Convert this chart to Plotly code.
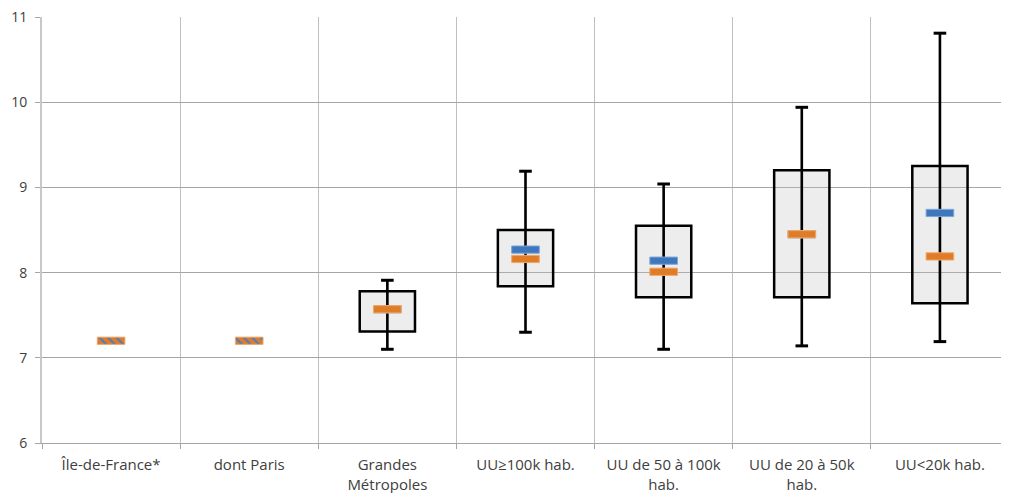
import plotly.graph_objects as go

categories = ["Île-de-France*", "dont Paris", "Grandes<br>Métropoles", "UU≥100k hab.",
              "UU de 50 à 100k<br>hab.", "UU de 20 à 50k<br>hab.", "UU<20k hab."]
q1 = [None, None, 7.31, 7.84, 7.71, 7.71, 7.64]
q3 = [None, None, 7.78, 8.50, 8.55, 9.20, 9.25]
vmin = [None, None, 7.10, 7.30, 7.10, 7.14, 7.19]
vmax = [None, None, 7.91, 9.19, 9.04, 9.94, 10.81]
blue_vals = [7.20, 7.20, 7.57, 8.27, 8.14, 8.45, 8.70]
orange_vals = [7.20, 7.20, 7.57, 8.16, 8.01, 8.45, 8.19]
y_ticks = [6, 7, 8, 9, 10, 11]

MH = 0.085  # marker thickness in data units
BLUE = "#3D77BE"
ORANGE = "#E07C28"

box_h = [None if a is None else b - a for a, b in zip(q1, q3)]
span = [None if a is None else b - a for a, b in zip(vmin, vmax)]
same = [b == o and q is None for b, o, q in zip(blue_vals, orange_vals, q1)]
blue_show = [None if s else v for v, s in zip(blue_vals, same)]

fig = go.Figure()
# boxes Q1..Q3 (slightly transparent fill, gridlines show through)
fig.add_trace(go.Bar(
    x=categories, y=box_h, base=q1, width=0.4,
    marker=dict(color="rgba(191,191,191,0.28)", line=dict(color="#000000", width=2.5)),
    showlegend=False, hoverinfo="skip"))
# whisker min..max as a thin bar above the box
fig.add_trace(go.Bar(
    x=categories, y=span, base=vmin, width=0.019,
    marker=dict(color="#000000", line=dict(width=0)),
    showlegend=False, hoverinfo="skip"))
# blue markers
fig.add_trace(go.Bar(
    x=categories, y=[None if v is None else MH for v in blue_show],
    base=[None if v is None else v - MH / 2 for v in blue_show], width=0.2,
    marker=dict(color=BLUE, line=dict(color="#7FA6D6", width=1)),
    showlegend=False, hoverinfo="skip"))
# orange markers (hatched with blue where both coincide)
fig.add_trace(go.Bar(
    x=categories, y=[MH for _ in orange_vals],
    base=[v - MH / 2 for v in orange_vals], width=0.2,
    marker=dict(color=ORANGE, line=dict(color="#F0A868", width=1),
                pattern=dict(shape=["\\" if s else "" for s in same], fgcolor="#4A7EC0",
                             bgcolor=ORANGE, size=6, solidity=0.35, fillmode="replace")),
    showlegend=False, hoverinfo="skip"))
# whisker caps
fig.add_trace(go.Scatter(
    x=categories + categories, y=vmin + vmax, mode="markers",
    marker=dict(symbol="line-ew", size=9, line=dict(color="#000000", width=3)),
    showlegend=False, hoverinfo="skip"))

fig.update_layout(
    width=1001, height=485,
    margin=dict(l=34, r=0, t=9, b=50),
    paper_bgcolor="white", plot_bgcolor="white",
    barmode="overlay",
    font=dict(family="Open Sans, Noto Sans, sans-serif", size=15, color="#404040"),
    xaxis=dict(type="category", categoryorder="array", categoryarray=categories,
               tickson="boundaries", showgrid=True, gridcolor="#BFBFBF",
               gridwidth=1, showline=True, linecolor="#A6A6A6", linewidth=1,
               ticks="outside", ticklen=5, tickcolor="#A6A6A6", tickfont=dict(size=15),
               ticklabelstandoff=8, range=[-0.5, 6.5], automargin=False),
    yaxis=dict(range=[6, 11], tickvals=y_ticks, showgrid=True, gridcolor="#A6A6A6",
               gridwidth=1, showline=True, linecolor="#C8C8C8", linewidth=2,
               ticks="outside", ticklen=5, tickcolor="#A6A6A6", zeroline=False,
               tickfont=dict(size=14), ticklabelstandoff=5,
               automargin=False, ticklabeloverflow="allow"),
)

fig.write_html("out.html")
